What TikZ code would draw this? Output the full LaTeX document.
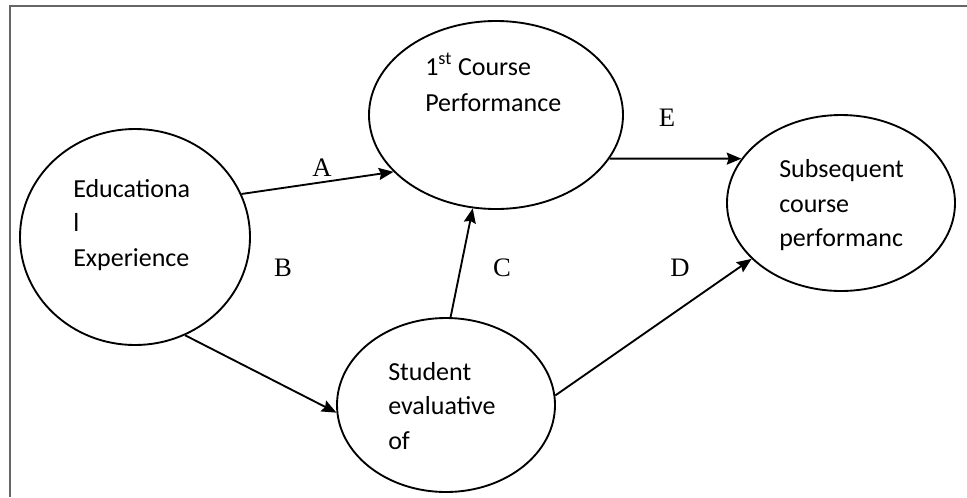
\documentclass[tikz,border=0pt]{standalone}
\usepackage{fontspec}
\newfontfamily\carlito{Carlito}
\newfontfamily\libserif{Liberation Serif}
\usetikzlibrary{shapes.geometric,arrows.meta}
\begin{document}
\begin{tikzpicture}[x=0.75pt,y=-0.75pt,
  oval/.style={draw,ellipse,line width=1.4pt,inner sep=0pt},
  txt/.style={font=\carlito\fontsize{19.5pt}{23pt}\selectfont,anchor=base west,inner sep=0pt},
  lbl/.style={font=\libserif\fontsize{20pt}{24pt}\selectfont,anchor=base,inner sep=0pt},
  conn/.style={line width=1.4pt,-{Stealth[length=11pt,width=9pt,inset=1.5pt]}},
  frameline/.style={draw=black!60,line width=1.5pt}]
\useasboundingbox (0,0) rectangle (967,497);
\draw[frameline] (10,497) -- (10,5.5) -- (967,5.5);
% ellipses
\node[oval,minimum width=190.5pt,minimum height=141pt] (T) at (496,115) {};
\node[oval,minimum width=172.5pt,minimum height=162pt] (Ed) at (135,237) {};
\node[oval,minimum width=171pt,minimum height=132pt] (S) at (841,203) {};
\node[oval,minimum width=163.5pt,minimum height=130.5pt] (St) at (446,405) {};
% texts
\node[txt] (t1) at (425,75) {1\textsuperscript{st} Course};
\node[txt] (t2) at (425,111) {Performance};
\node[txt] (e1) at (73,197) {Educationa};
\node[txt] (e2) at (73,231.5) {l};
\node[txt] (e3) at (73,266) {Experience};
\node[txt] (s1) at (779,177) {Subsequent};
\node[txt] (s2) at (779,212) {course};
\node[txt] (s3) at (779,246.5) {performanc};
\node[txt] (u1) at (388,380) {Student};
\node[txt] (u2) at (388,414.5) {evaluative};
\node[txt] (u3) at (388,449) {of};
% connectors
\draw[conn] (Ed.22.8) -- (T.209.4);
\draw[conn] (Ed.-63.4) -- (St.184.1);
\draw[conn] (St.87.3) -- (T.256.4);
\draw[conn] (St.5.2) -- (S.212.6);
\draw[conn] (T.-21.5) -- (S.156.9);
% labels
\node[lbl] (lA) at (322,176) {A};
\node[lbl] (lB) at (283,276) {B};
\node[lbl] (lC) at (502,276) {C};
\node[lbl] (lD) at (680,276) {D};
\node[lbl] (lE) at (667,126) {E};
\end{tikzpicture}
\end{document}
